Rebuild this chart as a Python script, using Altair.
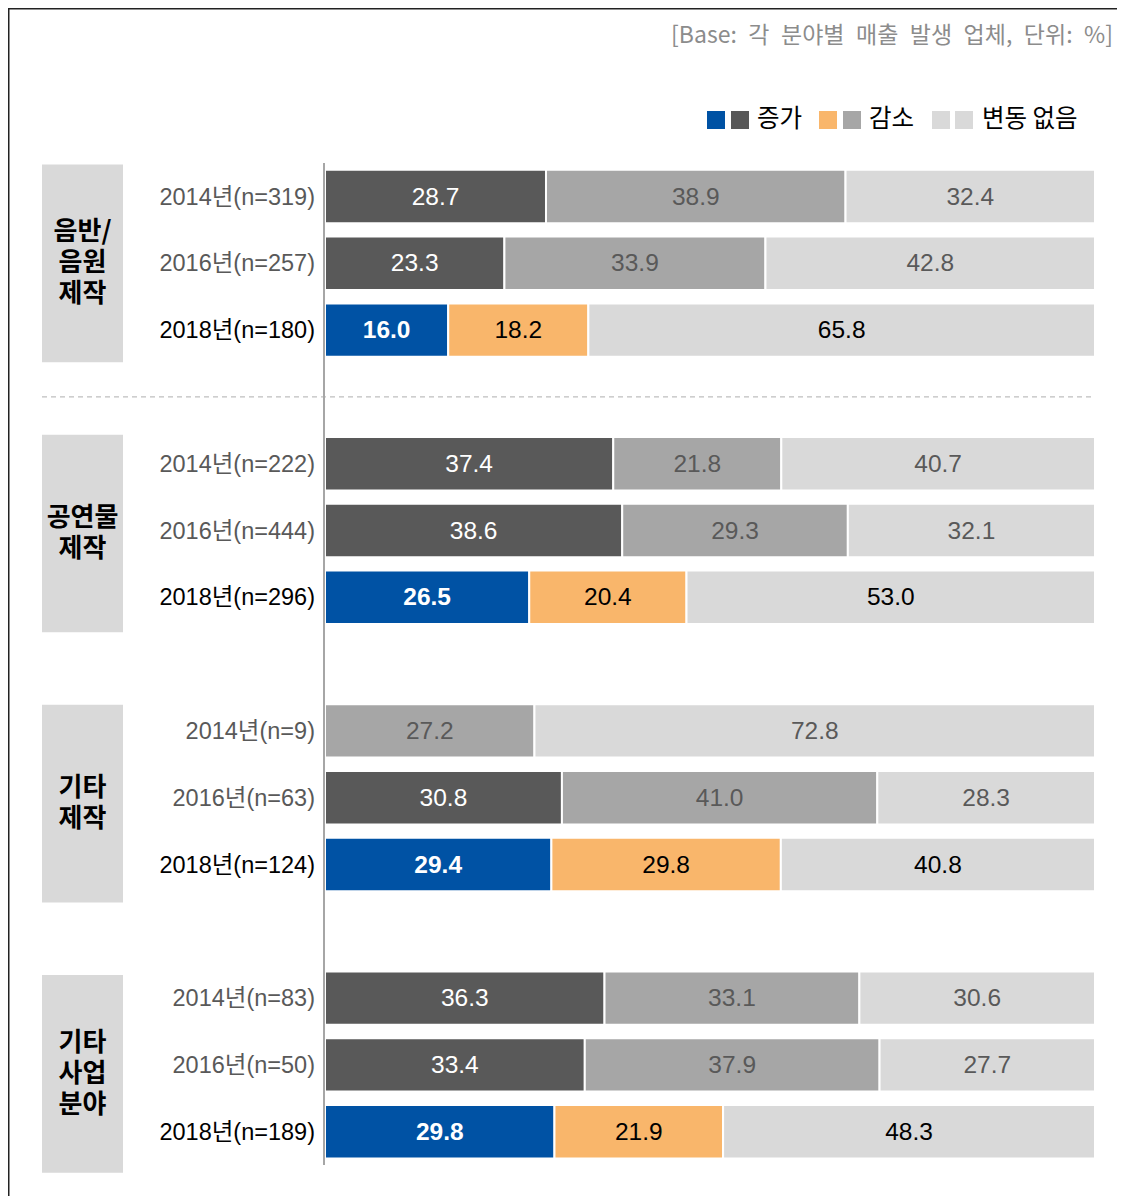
import altair as alt
import pandas as pd

# ---------------- data ----------------
groups = ["음반/\n음원\n제작", "공연물\n제작", "기타\n제작", "기타\n사업\n분야"]
years = ["2014년", "2016년", "2018년"]
n_values = [319, 257, 180, 222, 444, 296, 9, 63, 124, 83, 50, 189]
increase = [28.7, 23.3, 16.0, 37.4, 38.6, 26.5, 0.0, 30.8, 29.4, 36.3, 33.4, 29.8]
decrease = [38.9, 33.9, 18.2, 21.8, 29.3, 20.4, 27.2, 41.0, 29.8, 33.1, 37.9, 21.9]
nochange = [32.4, 42.8, 65.8, 40.7, 32.1, 53.0, 72.8, 28.3, 40.8, 30.6, 27.7, 48.3]
series = ["증가", "감소", "변동 없음"]
header = "[Base: 각 분야별 매출 발생 업체, 단위: %]"

# colours
old_colors = {"증가": "#595959", "감소": "#a6a6a6", "변동 없음": "#d9d9d9"}
new_colors = {"증가": "#0052a4", "감소": "#f9b66b", "변동 없음": "#d9d9d9"}

FONT = "Liberation Sans, Arial, Noto Sans CJK KR"
KFONT = "Noto Sans CJK KR"

SLOT_PX = 66.8

# ---------------- tables ----------------
seg_rows, lab_rows = [], []
for g in range(len(groups)):
    for r in range(len(years)):
        i = g * 3 + r
        slot = g * 4 + r
        latest = r == 2
        vals = {"증가": increase[i], "감소": decrease[i], "변동 없음": nochange[i]}
        total = sum(vals.values())
        start = 0.0
        for s in series:
            v = vals[s]
            w = v / total * 100  # bars are drawn as shares of the row total
            if v > 0:
                if s == "증가":
                    tcol = "white"
                else:
                    tcol = "black" if latest else "#595959"
                seg_rows.append({
                    "slot": slot, "y0": slot - 0.4, "y1": slot + 0.4,
                    "x0": start, "x1": start + w, "mid": start + w / 2,
                    "value": v, "label": f"{v:.1f}",
                    "color": (new_colors if latest else old_colors)[s],
                    "tcolor": tcol,
                    "bold": bool(latest and s == "증가"),
                })
            start += w
        lab_rows.append({
            "slot": slot,
            "label": f"{years[r]}(n={n_values[i]})",
            "color": "black" if latest else "#595959",
        })

seg = pd.DataFrame(seg_rows)
labs = pd.DataFrame(lab_rows)

box_rows = []
for g, name in enumerate(groups):
    c = g * 4 + 1 + g * 0.045
    nlines = name.count("\n") + 1
    box_rows.append({
        "y0": c - 1.48, "y1": c + 1.48,
        "yt": c - (nlines - 1) / 2 * 31 / SLOT_PX,
        "name": name,
    })
boxes = pd.DataFrame(box_rows)

xs = alt.Scale(domain=[0, 100], range=[317, 1087], nice=False, zero=False)
ys = alt.Scale(domain=[0, 14], range=[188.5, 188.5 + 14 * SLOT_PX], nice=False, zero=False)

base = alt.Chart(seg)

bars = base.mark_rect(stroke="white", strokeWidth=2).encode(
    x=alt.X("x0:Q", scale=xs, axis=None),
    x2="x1:Q",
    y=alt.Y("y0:Q", scale=ys, axis=None),
    y2="y1:Q",
    color=alt.Color("color:N", scale=None),
)

vals_regular = base.transform_filter("!datum.bold").mark_text(
    font=FONT, fontSize=24.5, baseline="middle", align="center", dy=1
).encode(
    x=alt.X("mid:Q", scale=xs, axis=None),
    y=alt.Y("slot:Q", scale=ys, axis=None),
    text="label:N",
    color=alt.Color("tcolor:N", scale=None),
)
vals_bold = base.transform_filter("datum.bold").mark_text(
    font=FONT, fontSize=24.5, fontWeight="bold", baseline="middle", align="center", dy=1
).encode(
    x=alt.X("mid:Q", scale=xs, axis=None),
    y=alt.Y("slot:Q", scale=ys, axis=None),
    text="label:N",
    color=alt.Color("tcolor:N", scale=None),
)

row_labels = alt.Chart(labs).mark_text(
    font=FONT, fontSize=23.5, baseline="middle", align="right", dy=1
).encode(
    x=alt.value(307),
    y=alt.Y("slot:Q", scale=ys, axis=None),
    text="label:N",
    color=alt.Color("color:N", scale=None),
)

box_rects = alt.Chart(boxes).mark_rect(color="#d9d9d9").encode(
    x=alt.value(34), x2=alt.value(115),
    y=alt.Y("y0:Q", scale=ys, axis=None), y2="y1:Q",
)
box_text = alt.Chart(boxes).mark_text(
    font=KFONT, fontSize=26, fontWeight="bold", lineBreak="\n",
    lineHeight=31, baseline="middle", align="center", color="black"
).encode(
    x=alt.value(74.5),
    y=alt.Y("yt:Q", scale=ys, axis=None),
    text="name:N",
)

axis_line = alt.Chart(pd.DataFrame({"a": [-0.5], "b": [14.5]})).mark_rule(
    color="#a6a6a6", strokeWidth=2
).encode(x=alt.value(316), y=alt.Y("a:Q", scale=ys, axis=None), y2="b:Q")

dash_line = alt.Chart(pd.DataFrame({"s": [3.0]})).mark_rule(
    color="#bfbfbf", strokeWidth=1.2, strokeDash=[5, 4]
).encode(x=alt.value(34), x2=alt.value(1087), y=alt.Y("s:Q", scale=ys, axis=None))

one = pd.DataFrame({"k": [0]})
frame_top = alt.Chart(one).mark_rule(color="#222222", strokeWidth=1.5).encode(
    x=alt.value(0), x2=alt.value(1109), y=alt.value(0.75)
)
frame_left = alt.Chart(one).mark_rule(color="#222222", strokeWidth=1.5).encode(
    x=alt.value(0.75), y=alt.value(0), y2=alt.value(1188)
)

# the source note uses wide word spacing: render spaces as en-spaces
header_text = alt.Chart(pd.DataFrame({"t": [header.replace(" ", "\u2002")]})).mark_text(
    font=KFONT, fontSize=23, align="right", baseline="middle", color="#8c8c8c"
).encode(x=alt.value(1105), y=alt.value(28), text="t:N")

# legend (two swatches per series: 2018 colour, earlier-years colour)
leg_sq_x1 = [708, 820, 933]
leg_sq_x2 = [732, 844, 956]
leg_tx = [749, 861, 974]
legend_layers = []
for k, s in enumerate(series):
    d = pd.DataFrame({"series": [s]})
    legend_layers.append(
        alt.Chart(d).mark_rect(color=new_colors[s]).encode(
            x=alt.value(leg_sq_x1[k] - 9), x2=alt.value(leg_sq_x1[k] + 9),
            y=alt.value(103), y2=alt.value(121))
    )
    legend_layers.append(
        alt.Chart(d).mark_rect(color=old_colors[s]).encode(
            x=alt.value(leg_sq_x2[k] - 9), x2=alt.value(leg_sq_x2[k] + 9),
            y=alt.value(103), y2=alt.value(121))
    )
    legend_layers.append(
        alt.Chart(d).mark_text(
            font=KFONT, fontSize=24.5, align="left", baseline="middle", color="black"
        ).encode(x=alt.value(leg_tx[k]), y=alt.value(112), text="series:N")
    )

chart = alt.layer(
    frame_top, frame_left, header_text,
    *legend_layers,
    box_rects, box_text, dash_line,
    bars, vals_regular, vals_bold, row_labels, axis_line,
).properties(
    width=1109, height=1188,
    autosize=alt.AutoSizeParams(type="none"),
    padding=0,
).configure_view(stroke=None)

chart.save("out.html", embed_options={"renderer": "svg", "actions": False})
